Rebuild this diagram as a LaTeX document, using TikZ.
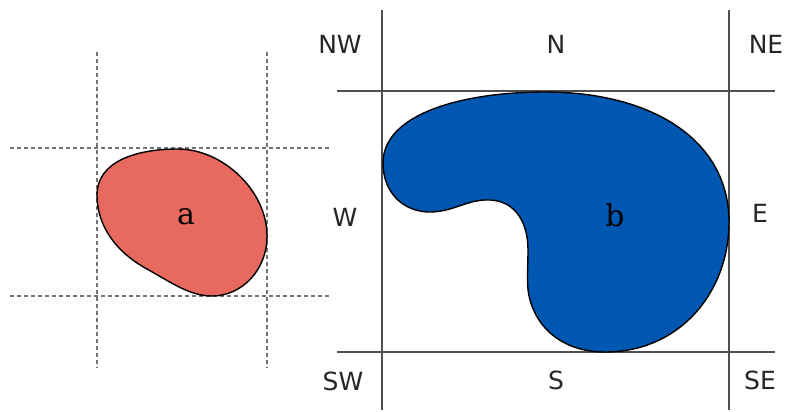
\documentclass[tikz,border=0pt]{standalone}
\usepackage{fontspec}
\setmainfont{DejaVu Serif}
\setsansfont{DejaVu Sans}
\usepackage{xcolor}
\usepackage{tikz}

\definecolor{blobred}{RGB}{232,106,94}
\definecolor{blobblue}{RGB}{0,87,178}
\definecolor{gridgray}{RGB}{80,80,80}

\begin{document}
\begin{tikzpicture}[
    x=1pt, y=-1pt,
    guide/.style={draw=gridgray!80, line width=1.3pt, dash pattern=on 4pt off 3pt},
    grid/.style={draw=gridgray, line width=1.4pt},
    blob/.style={draw=black, line width=1.4pt},
    dirlabel/.style={font=\sffamily\fontsize{25}{29}\selectfont, text=black!85, inner sep=0pt},
    blobname/.style={font=\fontsize{30}{34}\selectfont, inner sep=0pt}
]
\useasboundingbox (0,0) rectangle (787,412);

% Left: bounding box of a
\draw[guide] (97,52) -- (97,368);
\draw[guide] (267,52) -- (267,368);
\draw[guide] (10,148) -- (330,148);
\draw[guide] (10,296) -- (330,296);

\draw[blob, fill=blobred] (97,195)
    .. controls (97,162) and (135,149) .. (178,149)
    .. controls (222,149) and (267,190) .. (267,236)
    .. controls (267,270) and (242,296) .. (212,296)
    .. controls (190,296) and (172,283) .. (147,269)
    .. controls (116,252) and (97,226) .. cycle;
\node[blobname] (a) at (186,217) {a};

% Right: cardinal tiles around b
\draw[grid] (382,10) -- (382,410);
\draw[grid] (729,10) -- (729,410);
\draw[grid] (337,91) -- (775,91);
\draw[grid] (337,352) -- (775,352);

\draw[blob, fill=blobblue] (383,163)
    .. controls (383,194) and (405,213) .. (432,212)
    .. controls (455,211) and (468,199) .. (490,200)
    .. controls (515,201) and (528,222) .. (528,250)
    .. controls (528,272) and (526,286) .. (530,300)
    .. controls (540,335) and (570,352) .. (605,352)
    .. controls (680,352) and (729,292) .. (729,222)
    .. controls (729,140) and (652,92) .. (545,92)
    .. controls (462,92) and (383,114) .. cycle;
\node[blobname] (b) at (615,215) {b};

% Direction labels
\node[dirlabel] (nw) at (340,44) {NW};
\node[dirlabel] (n)  at (556,44) {N};
\node[dirlabel] (ne) at (766,44) {NE};
\node[dirlabel] (w)  at (345,217) {W};
\node[dirlabel] (e)  at (760,213) {E};
\node[dirlabel] (sw) at (343,381) {SW};
\node[dirlabel] (s)  at (556,380) {S};
\node[dirlabel] (se) at (760,380) {SE};

\end{tikzpicture}
\end{document}
